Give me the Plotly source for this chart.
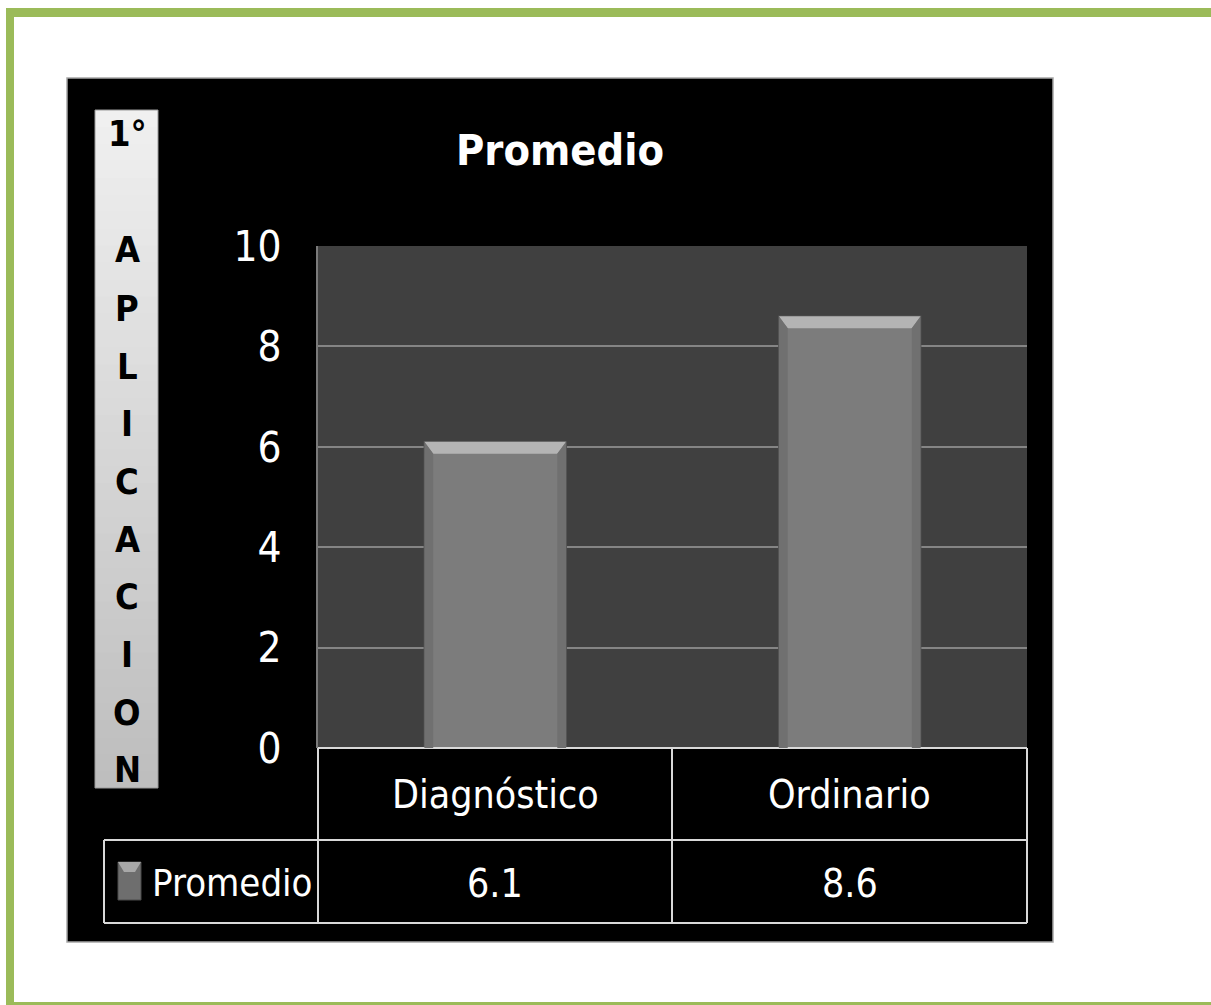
import plotly.graph_objects as go

# ---- data ----
categories = ["Diagnóstico", "Ordinario"]
promedio = [6.1, 8.6]
series_name = "Promedio"
title_text = "Promedio"
side_label = ["1°", "A", "P", "L", "I", "C", "A", "C", "I", "O", "N"]
y_ticks = [0, 2, 4, 6, 8, 10]

W, H = 1211, 1005
FONT = "DejaVu Sans Condensed, DejaVu Sans, sans-serif"


def px(x):
    return x / W


def py(y):
    return 1 - y / H


shapes = []
annotations = []


def rect(x0, y0, x1, y1, fill, layer="below", line=None):
    shapes.append(dict(type="rect", xref="paper", yref="paper", x0=px(x0), x1=px(x1), y0=py(y1), y1=py(y0),
                       fillcolor=fill, line=line or dict(width=0), layer=layer))


# green frame
GREEN = "#9BBB59"
rect(6, 8, 1211, 17, GREEN)
rect(6, 8, 14, 1005, GREEN)
rect(6, 1002, 1211, 1005, GREEN)

# black chart box, drawn as four pieces around the plot area
PL, PR, PT, PB = 318, 1027, 246, 748
rect(67, 78, 1053, PT, "#000000")
rect(67, PB, 1053, 942, "#000000")
rect(67, PT - 1, PL, PB + 1, "#000000")
rect(PR, PT - 1, 1053, PB + 1, "#000000")
rect(67, 78, 1053, 942, "rgba(0,0,0,0)", line=dict(color="#a6a6a6", width=1.5))

# side label box with gradient strips
n_strips = 40
top, bot = 110, 788
c0, c1 = 0xF0, 0xBE
for i in range(n_strips):
    y0 = top + (bot - top) * i / n_strips
    y1 = min(bot, top + (bot - top) * (i + 1) / n_strips + 2)
    c = int(c0 + (c1 - c0) * i / (n_strips - 1))
    rect(95, y0, 158, y1, f"#{c:02x}{c:02x}{c:02x}")
rect(95, top, 158, bot, "rgba(0,0,0,0)", line=dict(color="#9a9a9a", width=1))

letter_y = [133, 250, 308, 366, 423, 481, 539, 596, 654, 712, 769]
for ch, yy in zip(side_label, letter_y):
    annotations.append(dict(text=f"<b>{ch}</b>", xref="paper", yref="paper", x=px(127), y=py(yy),
                            xanchor="center", yanchor="middle", showarrow=False,
                            font=dict(family=FONT, size=36, color="#000000")))

# title
annotations.append(dict(text=f"<b>{title_text}</b>", xref="paper", yref="paper", x=px(560), y=py(150),
                        xanchor="center", yanchor="middle", showarrow=False,
                        font=dict(family=FONT, size=43, color="#ffffff")))

# data table lines
LC = "#d9d9d9"


def hline(x0, x1, y):
    shapes.append(dict(type="line", xref="paper", yref="paper", x0=px(x0), x1=px(x1), y0=py(y), y1=py(y),
                       line=dict(color=LC, width=2), layer="above"))


def vline(x, y0, y1):
    shapes.append(dict(type="line", xref="paper", yref="paper", x0=px(x), x1=px(x), y0=py(y0), y1=py(y1),
                       line=dict(color=LC, width=2), layer="above"))


hline(318, 1027, 748)
hline(104, 1027, 840)
hline(104, 1027, 923)
vline(104, 840, 923)
vline(318, 748, 923)
vline(672, 748, 923)
vline(1027, 748, 923)

TFS = 39
# category labels and values in table
for i, (cat, val) in enumerate(zip(categories, promedio)):
    annotations.append(dict(text=cat, xref="x", yref="paper", x=i, y=py(794),
                            xanchor="center", yanchor="middle", showarrow=False,
                            font=dict(family=FONT, size=TFS, color="#ffffff")))
    annotations.append(dict(text=f"{val:.1f}", xref="x", yref="paper", x=i, y=py(883),
                            xanchor="center", yanchor="middle", showarrow=False,
                            font=dict(family=FONT, size=TFS, color="#ffffff")))

# legend cell
rect(118, 862, 141, 900, "#6e6e6e", layer="above", line=dict(color="#4a4a4a", width=1))
shapes.append(dict(type="path", xref="paper", yref="paper",
                   path=f"M {px(118)},{py(862)} L {px(141)},{py(862)} L {px(135)},{py(872)} L {px(124)},{py(872)} Z",
                   fillcolor="#a8a8a8", line=dict(width=0), layer="above"))
annotations.append(dict(text=series_name, xref="paper", yref="paper", x=px(150), y=py(883),
                        xanchor="left", yanchor="middle", showarrow=False,
                        font=dict(family=FONT, size=38, color="#ffffff")))

# bar bevels (top highlight), computed from data through axis coordinates
bw = 0.4
bev_h = 0.24
inset = 0.025
for i, val in enumerate(promedio):
    xl, xr = i - bw / 2, i + bw / 2
    shapes.append(dict(type="path", xref="x", yref="y",
                       path=f"M {xl},{val} L {xr},{val} L {xr - inset},{val - bev_h} L {xl + inset},{val - bev_h} Z",
                       fillcolor="#b4b4b4", line=dict(width=0), layer="above"))
    shapes.append(dict(type="path", xref="x", yref="y",
                       path=f"M {xl},{val} L {xl + inset},{val - bev_h} L {xl + inset},0 L {xl},0 Z",
                       fillcolor="#707070", line=dict(width=0), layer="above"))
    shapes.append(dict(type="path", xref="x", yref="y",
                       path=f"M {xr},{val} L {xr - inset},{val - bev_h} L {xr - inset},0 L {xr},0 Z",
                       fillcolor="#707070", line=dict(width=0), layer="above"))

fig = go.Figure()
fig.add_trace(go.Bar(
    x=list(range(len(categories))), y=promedio, name=series_name, width=bw,
    marker=dict(color="#7c7c7c", line=dict(color="#505050", width=1.5)),
    showlegend=False, hoverinfo="skip",
))

fig.update_layout(
    width=W, height=H,
    margin=dict(l=0, r=0, t=0, b=0, pad=0, autoexpand=False),
    paper_bgcolor="#ffffff",
    plot_bgcolor="#404040",
    shapes=shapes,
    annotations=annotations,
    showlegend=False,
    xaxis=dict(domain=[px(PL), px(PR)], range=[-0.5, 1.5], showticklabels=False, automargin=False,
               showgrid=False, zeroline=False, showline=False, fixedrange=True),
    yaxis=dict(domain=[py(PB), py(PT)], range=[0, 10], tickvals=y_ticks, automargin=False,
               showgrid=True, gridcolor="#858585", gridwidth=2, zeroline=False,
               showline=True, linecolor="#7a7a7a", linewidth=2,
               ticks="", ticklabelstandoff=26,
               tickfont=dict(family=FONT, size=42, color="#ffffff"), fixedrange=True),
)

fig.write_html("out.html", config={"responsive": False, "displayModeBar": False},
               post_script="document.body.style.margin='0';document.body.style.overflow='hidden';")
